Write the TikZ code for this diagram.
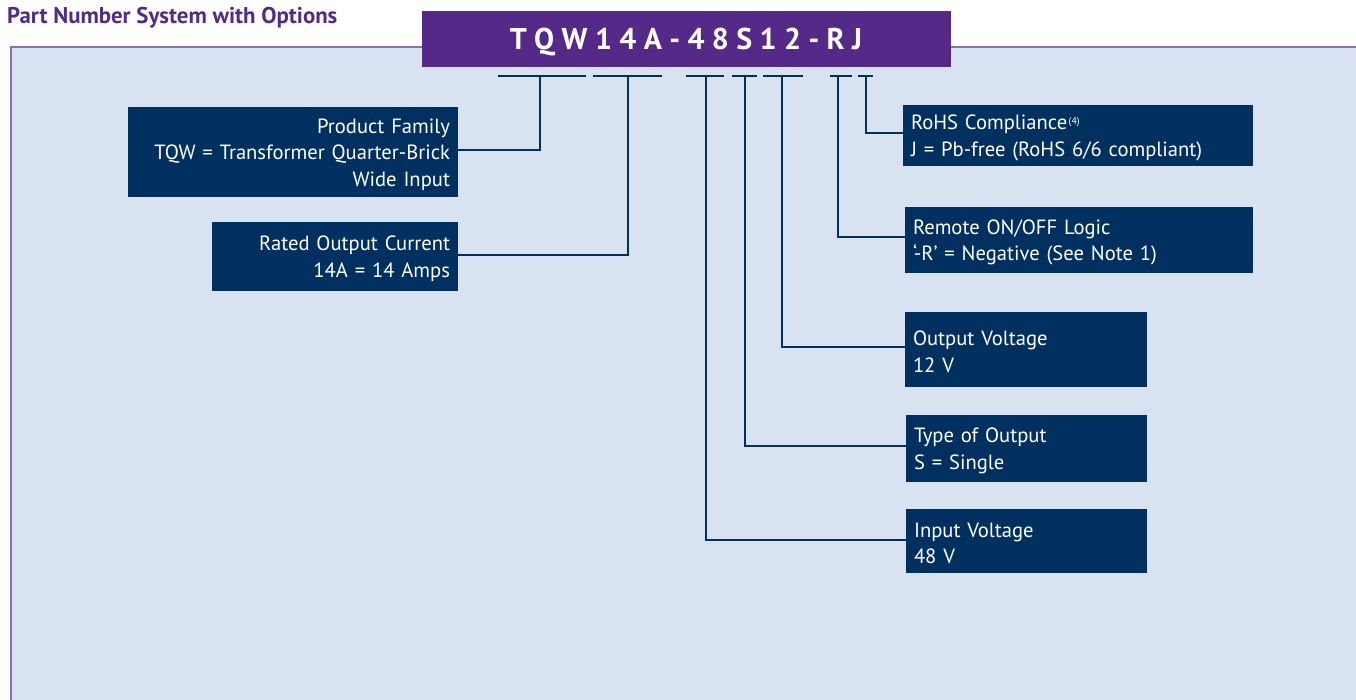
\documentclass[tikz,border=0pt]{standalone}
\usepackage{fontspec}
\setmainfont{PT Sans}
\definecolor{navy}{RGB}{0,48,96}
\definecolor{hdrpurple}{RGB}{84,41,135}
\definecolor{titlepurple}{RGB}{85,42,134}
\definecolor{borderpurple}{RGB}{148,106,180}
\definecolor{panelfill}{RGB}{217,226,241}
\newcommand{\lsp}{\hspace{7.4pt}}
\newcommand{\topstrut}{\rule{0pt}{19.5pt}}
\tikzset{
  infobox/.style={rectangle, fill=navy, text=white, inner xsep=8pt, inner ysep=0pt,
    font=\fontsize{20.6}{26.5}\selectfont},
  lbox/.style={infobox, align=right},
  rbox/.style={infobox, align=left},
  conn/.style={draw=navy, line width=2.4pt},
  tick/.style={draw=navy, line width=2.4pt}
}
\begin{document}
\begin{tikzpicture}[x=1pt,y=-1pt]
\useasboundingbox (0,0) rectangle (1356,700);
% panel
\fill[panelfill] (11,47) rectangle (1357,701);
\draw[borderpurple, line width=2.6pt] (11,701) -- (11,47) -- (1357,47);
% title
\node[anchor=base west, inner sep=0pt, text=titlepurple, font=\bfseries\fontsize{22.8}{26}\selectfont] (title) at (7,24) {Part Number System with Options};
% header
\node[rectangle, fill=hdrpurple, minimum width=529pt, minimum height=56pt, inner sep=0pt] (hdr) at (686.5,39) {};
\node[text=white, font=\bfseries\fontsize{30}{32}\selectfont, inner sep=0pt, anchor=base] (code) at (686,49.5)
  {T\lsp Q\lsp W\lsp 1\lsp 4\lsp A\lsp -\lsp 4\lsp 8\lsp S\lsp 1\lsp 2\lsp -\lsp R\lsp J};
% underline ticks
\coordinate (a1) at (498,76); \coordinate (a2) at (586,76);
\coordinate (b1) at (593,76); \coordinate (b2) at (662,76);
\coordinate (c1) at (686,76); \coordinate (c2) at (724,76);
\coordinate (d1) at (732,76); \coordinate (d2) at (757,76);
\coordinate (e1) at (763,76); \coordinate (e2) at (803,76);
\coordinate (f1) at (830,76); \coordinate (f2) at (852,76);
\coordinate (g1) at (858,76); \coordinate (g2) at (873,76);
\foreach \s/\e in {a1/a2,b1/b2,c1/c2,d1/d2,e1/e2,f1/f2,g1/g2} \draw[tick] (\s) -- (\e);
\coordinate (tPF) at (540,76);
\coordinate (tRC) at (628,76);
\coordinate (tIV) at (706,76);
\coordinate (tTO) at (745,76);
\coordinate (tOV) at (782,76);
\coordinate (tRM) at (838,76);
\coordinate (tRH) at (866,76);
% boxes
\node[lbox, minimum width=330pt, text width=314pt, minimum height=90pt] (pf) at (293,152)
  {\topstrut Product Family\\TQW = Transformer Quarter-Brick\\Wide Input};
\node[lbox, minimum width=246pt, text width=230pt, minimum height=69pt] (rc) at (335,256.5)
  {\topstrut Rated Output Current\\14A = 14 Amps};
\node[rbox, minimum width=350pt, text width=334pt, minimum height=61pt] (rh) at (1078,135.5)
  {\topstrut RoHS Compliance\hspace{1.5pt}\raisebox{5pt}{\fontsize{10}{10}\selectfont(4)}\\J = Pb-free (RoHS 6/6 compliant)};
\node[rbox, minimum width=348pt, text width=332pt, minimum height=66pt] (rm) at (1079,240)
  {\topstrut Remote ON/OFF Logic\\‘-R’ = Negative (See Note 1)};
\node[rbox, minimum width=242pt, text width=226pt, minimum height=75pt] (ov) at (1026,349.5)
  {\topstrut Output Voltage\\12 V};
\node[rbox, minimum width=241pt, text width=225pt, minimum height=67pt] (to) at (1026.5,448.5)
  {\topstrut Type of Output\\S = Single};
\node[rbox, minimum width=241pt, text width=225pt, minimum height=64pt] (iv) at (1026.5,541)
  {\topstrut Input Voltage\\48 V};
% connectors
\draw[conn] ([yshift=2pt]pf.east) -| (tPF);
\draw[conn] ([yshift=1.5pt]rc.east) -| (tRC);
\draw[conn] ([yshift=2.5pt]rh.west) -| (tRH);
\draw[conn] ([yshift=3pt]rm.west) -| (tRM);
\draw[conn] ([yshift=2.5pt]ov.west) -| (tOV);
\draw[conn] ([yshift=2.5pt]to.west) -| (tTO);
\draw[conn] ([yshift=1pt]iv.west) -| (tIV);
\end{tikzpicture}
\end{document}
